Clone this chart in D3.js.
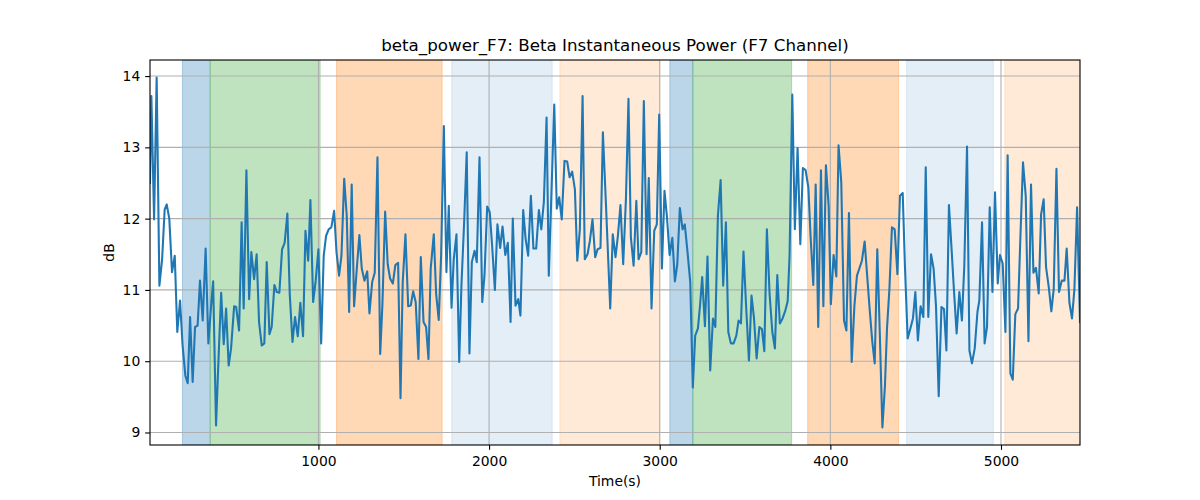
<!DOCTYPE html>
<html><head><meta charset="utf-8">
<script src="https://cdn.jsdelivr.net/npm/d3@7"></script>
<style>body{margin:0;background:#fff}svg text{font-family:"DejaVu Sans",sans-serif}</style>
</head><body><svg id="c" width="1200" height="500"></svg>
<script>
const times = [13,21,37,52,68,84,99,111,126,142,158,173,189,204,220,234,248,263,277,292,306,322,339,355,371,383,400,414,430,445,459,474,488,506,518,535,550,562,578,594,607,623,638,652,668,683,697,713,726,742,756,771,787,802,818,832,848,863,879,894,910,924,940,953,969,984,1000,1016,1031,1045,1060,1076,1092,1106,1121,1135,1151,1166,1180,1195,1209,1225,1240,1254,1270,1286,1299,1315,1330,1346,1362,1375,1391,1406,1420,1436,1451,1467,1481,1494,1510,1526,1541,1555,1570,1586,1600,1616,1631,1645,1658,1676,1690,1705,1719,1735,1750,1764,1780,1793,1809,1825,1838,1854,1869,1885,1899,1915,1928,1944,1960,1973,1989,2004,2018,2034,2049,2065,2079,2095,2110,2126,2139,2155,2171,2184,2200,2214,2229,2245,2260,2276,2292,2306,2321,2337,2350,2366,2382,2397,2411,2426,2442,2458,2472,2487,2503,2517,2532,2548,2561,2577,2591,2606,2622,2636,2653,2667,2685,2710,2725,2741,2755,2770,2786,2802,2817,2831,2847,2863,2876,2892,2907,2923,2936,2952,2968,2983,2997,3013,3028,3042,3058,3074,3089,3103,3118,3134,3147,3163,3179,3194,3208,3224,3237,3249,3265,3280,3296,3312,3326,3341,3357,3372,3388,3402,3417,3433,3449,3462,3476,3491,3507,3523,3538,3552,3568,3584,3599,3613,3628,3644,3660,3675,3689,3704,3720,3736,3750,3761,3777,3792,3808,3824,3839,3855,3871,3884,3900,3914,3929,3945,3959,3974,3990,4003,4019,4035,4048,4064,4080,4094,4109,4125,4141,4156,4170,4185,4201,4217,4230,4246,4260,4275,4289,4305,4320,4332,4346,4361,4377,4393,4408,4424,4437,4453,4469,4484,4498,4513,4529,4545,4559,4574,4590,4605,4619,4635,4651,4666,4680,4695,4709,4724,4740,4756,4771,4785,4801,4815,4830,4846,4862,4873,4889,4904,4918,4934,4950,4965,4981,4994,5010,5026,5039,5055,5069,5084,5100,5114,5129,5145,5161,5176,5190,5205,5221,5235,5250,5264,5280,5295,5309,5325,5340,5356,5372,5385,5401,5416,5430,5446,5463];
const power = [12.5,13.72,11.99,13.98,11.06,11.43,12.13,12.2,12.0,11.25,11.48,10.41,10.85,10.22,9.8,9.69,10.62,9.71,10.48,10.5,11.13,10.57,11.58,10.25,10.78,11.12,9.1,10.0,10.96,10.24,10.74,9.94,10.18,10.77,10.76,10.43,11.95,10.74,12.68,10.87,11.53,11.15,11.5,10.55,10.22,10.25,11.39,10.38,10.48,11.07,10.97,10.96,11.57,11.66,12.07,10.94,10.27,10.62,10.35,10.82,10.35,11.83,11.41,12.26,10.83,11.13,11.57,10.25,11.48,11.76,11.85,11.88,12.11,11.53,11.2,11.48,12.56,12.04,10.69,12.48,10.77,11.3,11.77,11.3,11.13,11.26,10.67,11.11,11.24,12.86,10.1,10.8,12.1,11.36,11.16,11.09,11.35,11.38,9.48,11.11,11.78,10.77,10.78,10.98,10.83,10.03,11.46,10.55,10.48,10.03,11.3,11.78,10.94,10.58,11.48,13.3,11.25,12.18,10.75,11.43,11.78,9.99,11.06,11.95,12.93,10.11,11.39,11.55,11.39,12.86,10.83,11.2,12.17,12.09,11.62,11.0,11.92,11.59,11.89,11.49,11.66,10.55,12.0,10.78,10.87,10.64,12.12,11.72,11.48,12.32,11.58,11.58,12.12,11.85,12.23,13.42,11.2,12.39,13.6,12.14,12.3,11.99,12.81,12.8,12.58,12.66,12.41,11.41,11.85,13.72,11.43,11.5,11.69,11.99,11.46,11.57,11.59,13.21,12.2,10.74,11.78,11.46,11.76,12.19,11.36,12.27,13.68,11.74,11.34,12.25,11.43,11.53,13.65,11.5,12.57,10.74,11.83,11.92,13.46,11.3,12.39,12.04,11.49,11.73,11.12,11.36,12.15,11.85,11.92,11.53,11.11,9.63,10.36,10.46,10.8,11.18,10.49,11.47,9.87,10.6,10.48,12.04,12.54,11.06,11.95,10.41,10.25,10.25,10.36,10.57,10.53,11.54,10.74,10.01,10.92,10.62,10.04,10.48,10.45,10.14,11.85,10.94,10.41,10.18,11.21,10.53,10.6,10.71,10.84,11.48,13.74,11.85,12.99,11.64,12.71,12.68,12.44,11.76,11.07,12.48,10.48,12.68,10.77,12.75,12.18,10.8,11.49,11.19,13.03,12.51,10.57,10.43,12.08,9.99,10.78,11.2,11.3,11.41,11.68,11.16,10.74,10.27,9.97,11.57,10.46,9.07,9.66,10.46,11.01,11.88,11.85,11.22,12.32,12.36,11.34,10.32,10.46,10.6,10.97,10.29,10.77,10.62,12.72,10.62,11.5,11.3,10.78,9.51,10.76,10.73,10.15,12.19,11.63,11.01,10.39,10.97,10.57,11.34,13.01,10.15,9.97,10.18,10.69,10.85,11.95,10.25,10.48,12.16,10.97,12.37,11.09,11.49,11.37,10.41,12.89,9.83,9.74,10.66,10.74,11.76,12.79,12.32,10.28,12.48,11.24,11.31,10.95,12.06,12.27,11.32,11.04,10.7,11.01,12.7,10.97,11.13,11.13,11.58,10.82,10.6,11.0,12.16,10.55];
const spanStart = [203,367,1106,1781,2415,3059,3194,3867,4447,5022];
const spanEnd   = [365,1010,1725,2370,3001,3194,3773,4400,4955,5463];
const spanColor = ["#1f77b4","#2ca02c","#ff7f0e","#1f77b4","#ff7f0e","#1f77b4","#2ca02c","#ff7f0e","#1f77b4","#ff7f0e"];
const spanAlpha = [0.3,0.3,0.3,0.12,0.16,0.3,0.3,0.3,0.12,0.16];
const xTicks = [1000,2000,3000,4000,5000];
const yTicks = [9,10,11,12,13,14];
const titleText = "beta_power_F7: Beta Instantaneous Power (F7 Channel)";
const xLabel = "Time(s)";
const yLabel = "dB";

const svg = d3.select("#c");
const L=150,R=1080,T=60,B=445;
const x = d3.scaleLinear().domain(d3.extent(times)).range([L,R]);
const yMin=d3.min(power), yMax=d3.max(power), pad=(yMax-yMin)*0.05;
const y = d3.scaleLinear().domain([yMin-pad,yMax+pad]).range([B,T]);

const data = times.map((t,i)=>({t,v:power[i]}));
const spans = spanStart.map((s,i)=>({s,e:spanEnd[i],c:spanColor[i],a:spanAlpha[i]}));

svg.append("defs").append("clipPath").attr("id","clip").append("rect")
  .attr("x",L).attr("y",T).attr("width",R-L).attr("height",B-T);

const g = svg.append("g").attr("clip-path","url(#clip)");
g.selectAll("rect.span").data(spans).enter().append("rect")
  .attr("x",d=>x(d.s)).attr("width",d=>x(d.e)-x(d.s))
  .attr("y",T).attr("height",B-T)
  .attr("fill",d=>d.c).attr("fill-opacity",d=>d.a)
  .attr("stroke",d=>d.c).attr("stroke-opacity",d=>d.a).attr("stroke-width",1);

// grid
g.selectAll("line.gx").data(xTicks).enter().append("line")
  .attr("x1",d=>x(d)).attr("x2",d=>x(d)).attr("y1",T).attr("y2",B)
  .attr("stroke","#b0b0b0").attr("stroke-width",1.1);
g.selectAll("line.gy").data(yTicks).enter().append("line")
  .attr("y1",d=>y(d)).attr("y2",d=>y(d)).attr("x1",L).attr("x2",R)
  .attr("stroke","#b0b0b0").attr("stroke-width",1.1);

g.append("path").datum(data)
  .attr("d",d3.line().x(d=>x(d.t)).y(d=>y(d.v)))
  .attr("fill","none").attr("stroke","#1f77b4").attr("stroke-width",2.08)
  .attr("stroke-linejoin","round").attr("stroke-linecap","square");

// axes
const xa = svg.append("g").attr("transform",`translate(0,${B})`)
  .call(d3.axisBottom(x).tickValues(xTicks).tickFormat(d3.format("d")).tickSize(4.86).tickPadding(6.4));
const ya = svg.append("g").attr("transform",`translate(${L},0)`)
  .call(d3.axisLeft(y).tickValues(yTicks).tickFormat(d3.format("d")).tickSize(4.86).tickPadding(4.86));
[xa,ya].forEach(a=>{
  a.select(".domain").remove();
  a.selectAll("line").attr("stroke","#000").attr("stroke-width",1.1);
  a.selectAll("text").attr("font-size","13.9px").attr("fill","#000").attr("font-family","DejaVu Sans");
});
svg.append("rect").attr("x",L).attr("y",T).attr("width",R-L).attr("height",B-T)
  .attr("fill","none").attr("stroke","#000").attr("stroke-width",1.1);

svg.append("text").attr("x",(L+R)/2).attr("y",51).attr("text-anchor","middle")
  .attr("font-size","16.7px").text(titleText);
svg.append("text").attr("x",(L+R)/2).attr("y",486).attr("text-anchor","middle")
  .attr("font-size","13.9px").text(xLabel);
svg.append("text").attr("transform",`translate(114,${(T+B)/2}) rotate(-90)`).attr("text-anchor","middle")
  .attr("font-size","13.9px").text(yLabel);
</script></body></html>
